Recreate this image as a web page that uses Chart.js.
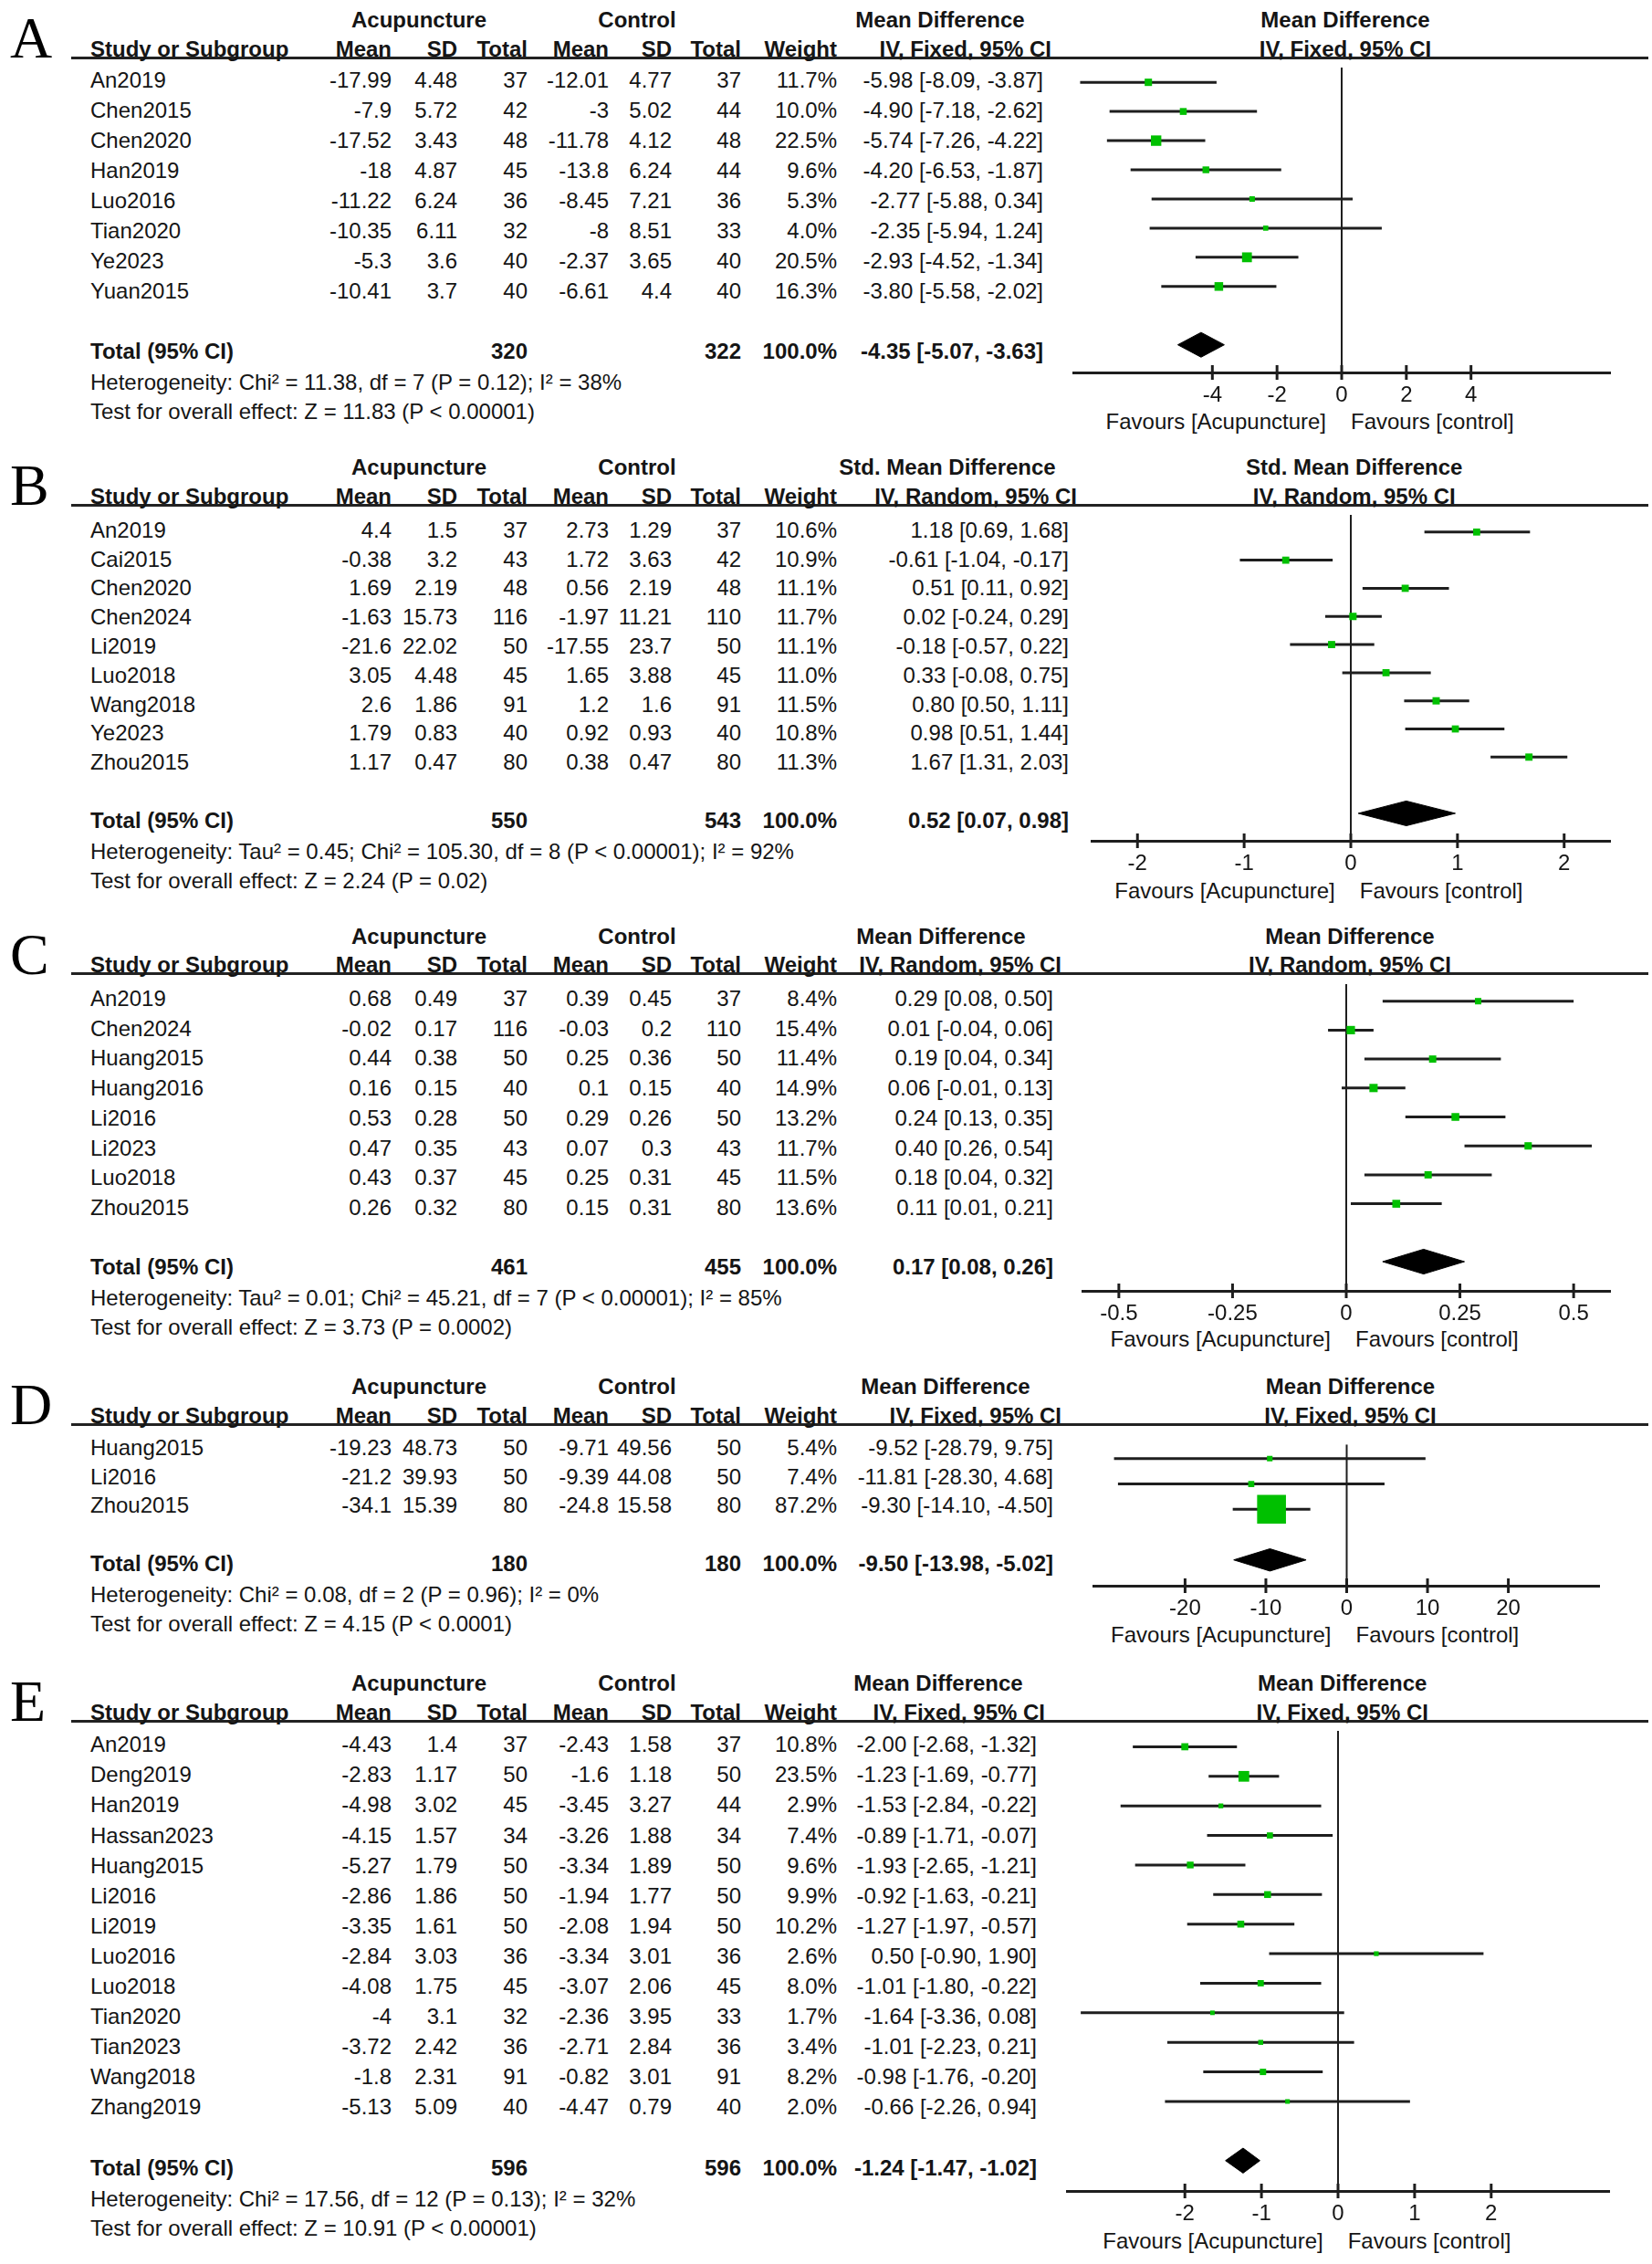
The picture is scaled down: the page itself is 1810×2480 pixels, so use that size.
<!DOCTYPE html>
<html lang="en">
<head>
<meta charset="UTF-8">
<title>Forest plots A-E</title>
<script src="https://cdn.jsdelivr.net/npm/chart.js"></script>
<style>
  html, body { margin: 0; padding: 0; background: #fff; }
  #page { position: relative; width: 1810px; height: 2480px; overflow: hidden;
          font-family: 'Liberation Sans', Arial, sans-serif; color: #151515; }
  .t { position: absolute; font-size: 24px; line-height: 24px; white-space: nowrap; }
  .b { font-weight: bold; }
  .r { transform: translate(-100%, -50%); }
  .c { transform: translate(-50%, -50%); }
  .l { transform: translate(0, -50%); }
  .letter { position: absolute; font-family: 'Liberation Serif', 'Times New Roman', serif;
            font-size: 64px; line-height: 64px; color: #000; }
  .hline { position: absolute; height: 3px; background: #222; }
  canvas { position: absolute; }
</style>
</head>
<body>
<div id="page"></div>
<script>
// ---- panel A: mean difference, fixed ----
const studyA = ['An2019', 'Chen2015', 'Chen2020', 'Han2019', 'Luo2016', 'Tian2020', 'Ye2023', 'Yuan2015'];
const acuMeanA = [-17.99, -7.9, -17.52, -18, -11.22, -10.35, -5.3, -10.41];
const acuSdA = [4.48, 5.72, 3.43, 4.87, 6.24, 6.11, 3.6, 3.7];
const acuNA = [37, 42, 48, 45, 36, 32, 40, 40];
const ctlMeanA = [-12.01, -3, -11.78, -13.8, -8.45, -8, -2.37, -6.61];
const ctlSdA = [4.77, 5.02, 4.12, 6.24, 7.21, 8.51, 3.65, 4.4];
const ctlNA = [37, 44, 48, 44, 36, 33, 40, 40];
const weightA = [11.7, 10.0, 22.5, 9.6, 5.3, 4.0, 20.5, 16.3];
const estA = [-5.98, -4.90, -5.74, -4.20, -2.77, -2.35, -2.93, -3.80];
const lowA = [-8.09, -7.18, -7.26, -6.53, -5.88, -5.94, -4.52, -5.58];
const highA = [-3.87, -2.62, -4.22, -1.87, 0.34, 1.24, -1.34, -2.02];
const totalA = [320, 322, -4.35, -5.07, -3.63];
const ticksA = [-4, -2, 0, 2, 4];
const rangeA = 8.3;
const hetA = 'Heterogeneity: Chi² = 11.38, df = 7 (P = 0.12); I² = 38%';
const testA = 'Test for overall effect: Z = 11.83 (P < 0.00001)';

// ---- panel B: std. mean difference, random ----
const studyB = ['An2019', 'Cai2015', 'Chen2020', 'Chen2024', 'Li2019', 'Luo2018', 'Wang2018', 'Ye2023', 'Zhou2015'];
const acuMeanB = [4.4, -0.38, 1.69, -1.63, -21.6, 3.05, 2.6, 1.79, 1.17];
const acuSdB = [1.5, 3.2, 2.19, 15.73, 22.02, 4.48, 1.86, 0.83, 0.47];
const acuNB = [37, 43, 48, 116, 50, 45, 91, 40, 80];
const ctlMeanB = [2.73, 1.72, 0.56, -1.97, -17.55, 1.65, 1.2, 0.92, 0.38];
const ctlSdB = [1.29, 3.63, 2.19, 11.21, 23.7, 3.88, 1.6, 0.93, 0.47];
const ctlNB = [37, 42, 48, 110, 50, 45, 91, 40, 80];
const weightB = [10.6, 10.9, 11.1, 11.7, 11.1, 11.0, 11.5, 10.8, 11.3];
const estB = [1.18, -0.61, 0.51, 0.02, -0.18, 0.33, 0.80, 0.98, 1.67];
const lowB = [0.69, -1.04, 0.11, -0.24, -0.57, -0.08, 0.50, 0.51, 1.31];
const highB = [1.68, -0.17, 0.92, 0.29, 0.22, 0.75, 1.11, 1.44, 2.03];
const totalB = [550, 543, 0.52, 0.07, 0.98];
const ticksB = [-2, -1, 0, 1, 2];
const rangeB = 2.43;
const hetB = 'Heterogeneity: Tau² = 0.45; Chi² = 105.30, df = 8 (P < 0.00001); I² = 92%';
const testB = 'Test for overall effect: Z = 2.24 (P = 0.02)';

// ---- panel C: mean difference, random ----
const studyC = ['An2019', 'Chen2024', 'Huang2015', 'Huang2016', 'Li2016', 'Li2023', 'Luo2018', 'Zhou2015'];
const acuMeanC = [0.68, -0.02, 0.44, 0.16, 0.53, 0.47, 0.43, 0.26];
const acuSdC = [0.49, 0.17, 0.38, 0.15, 0.28, 0.35, 0.37, 0.32];
const acuNC = [37, 116, 50, 40, 50, 43, 45, 80];
const ctlMeanC = [0.39, -0.03, 0.25, 0.1, 0.29, 0.07, 0.25, 0.15];
const ctlSdC = [0.45, 0.2, 0.36, 0.15, 0.26, 0.3, 0.31, 0.31];
const ctlNC = [37, 110, 50, 40, 50, 43, 45, 80];
const weightC = [8.4, 15.4, 11.4, 14.9, 13.2, 11.7, 11.5, 13.6];
const estC = [0.29, 0.01, 0.19, 0.06, 0.24, 0.40, 0.18, 0.11];
const lowC = [0.08, -0.04, 0.04, -0.01, 0.13, 0.26, 0.04, 0.01];
const highC = [0.50, 0.06, 0.34, 0.13, 0.35, 0.54, 0.32, 0.21];
const totalC = [461, 455, 0.17, 0.08, 0.26];
const ticksC = [-0.5, -0.25, 0, 0.25, 0.5];
const rangeC = 0.58;
const hetC = 'Heterogeneity: Tau² = 0.01; Chi² = 45.21, df = 7 (P < 0.00001); I² = 85%';
const testC = 'Test for overall effect: Z = 3.73 (P = 0.0002)';

// ---- panel D: mean difference, fixed ----
const studyD = ['Huang2015', 'Li2016', 'Zhou2015'];
const acuMeanD = [-19.23, -21.2, -34.1];
const acuSdD = [48.73, 39.93, 15.39];
const acuND = [50, 50, 80];
const ctlMeanD = [-9.71, -9.39, -24.8];
const ctlSdD = [49.56, 44.08, 15.58];
const ctlND = [50, 50, 80];
const weightD = [5.4, 7.4, 87.2];
const estD = [-9.52, -11.81, -9.30];
const lowD = [-28.79, -28.30, -14.10];
const highD = [9.75, 4.68, -4.50];
const totalD = [180, 180, -9.50, -13.98, -5.02];
const ticksD = [-20, -10, 0, 10, 20];
const rangeD = 31.3;
const hetD = 'Heterogeneity: Chi² = 0.08, df = 2 (P = 0.96); I² = 0%';
const testD = 'Test for overall effect: Z = 4.15 (P < 0.0001)';

// ---- panel E: mean difference, fixed ----
const studyE = ['An2019', 'Deng2019', 'Han2019', 'Hassan2023', 'Huang2015', 'Li2016', 'Li2019',
                'Luo2016', 'Luo2018', 'Tian2020', 'Tian2023', 'Wang2018', 'Zhang2019'];
const acuMeanE = [-4.43, -2.83, -4.98, -4.15, -5.27, -2.86, -3.35, -2.84, -4.08, -4, -3.72, -1.8, -5.13];
const acuSdE = [1.4, 1.17, 3.02, 1.57, 1.79, 1.86, 1.61, 3.03, 1.75, 3.1, 2.42, 2.31, 5.09];
const acuNE = [37, 50, 45, 34, 50, 50, 50, 36, 45, 32, 36, 91, 40];
const ctlMeanE = [-2.43, -1.6, -3.45, -3.26, -3.34, -1.94, -2.08, -3.34, -3.07, -2.36, -2.71, -0.82, -4.47];
const ctlSdE = [1.58, 1.18, 3.27, 1.88, 1.89, 1.77, 1.94, 3.01, 2.06, 3.95, 2.84, 3.01, 0.79];
const ctlNE = [37, 50, 44, 34, 50, 50, 50, 36, 45, 33, 36, 91, 40];
const weightE = [10.8, 23.5, 2.9, 7.4, 9.6, 9.9, 10.2, 2.6, 8.0, 1.7, 3.4, 8.2, 2.0];
const estE = [-2.00, -1.23, -1.53, -0.89, -1.93, -0.92, -1.27, 0.50, -1.01, -1.64, -1.01, -0.98, -0.66];
const lowE = [-2.68, -1.69, -2.84, -1.71, -2.65, -1.63, -1.97, -0.90, -1.80, -3.36, -2.23, -1.76, -2.26];
const highE = [-1.32, -0.77, -0.22, -0.07, -1.21, -0.21, -0.57, 1.90, -0.22, 0.08, 0.21, -0.20, 0.94];
const totalE = [596, 596, -1.24, -1.47, -1.02];
const ticksE = [-2, -1, 0, 1, 2];
const rangeE = 3.54;
const hetE = 'Heterogeneity: Chi² = 17.56, df = 12 (P = 0.13); I² = 32%';
const testE = 'Test for overall effect: Z = 10.91 (P < 0.00001)';

// ---- page layout (pixels) ----
const GREEN = '#00c000';
const INK = '#1e1e1e';
const AXIS_RIGHT = 1775;
const COL = { name: 99, acuMean: 429, acuSd: 501, acuN: 578, ctlMean: 667, ctlSd: 736,
              ctlN: 812, weight: 917 };

const panels = [
  { letter: 'A', study: studyA, acuMean: acuMeanA, acuSd: acuSdA, acuN: acuNA, ctlMean: ctlMeanA,
    ctlSd: ctlSdA, ctlN: ctlNA, weight: weightA, est: estA, low: lowA, high: highA, total: totalA,
    ticks: ticksA, range: rangeA, het: hetA, test: testA,
    measure: 'Mean Difference', method: 'IV, Fixed, 95% CI',
    top: 63.3, first: 80, row: 33, axis: 408.3, left: 1165, ci: 1143, mh: 1030 },
  { letter: 'B', study: studyB, acuMean: acuMeanB, acuSd: acuSdB, acuN: acuNB, ctlMean: ctlMeanB,
    ctlSd: ctlSdB, ctlN: ctlNB, weight: weightB, est: estB, low: lowB, high: highB, total: totalB,
    ticks: ticksB, range: rangeB, het: hetB, test: testB,
    measure: 'Std. Mean Difference', method: 'IV, Random, 95% CI',
    top: 553.3, first: 572.7, row: 31.8, axis: 921.7, left: 1184.5, ci: 1171, mh: 1038 },
  { letter: 'C', study: studyC, acuMean: acuMeanC, acuSd: acuSdC, acuN: acuNC, ctlMean: ctlMeanC,
    ctlSd: ctlSdC, ctlN: ctlNC, weight: weightC, est: estC, low: lowC, high: highC, total: totalC,
    ticks: ticksC, range: rangeC, het: hetC, test: testC,
    measure: 'Mean Difference', method: 'IV, Random, 95% CI',
    top: 1066.7, first: 1086, row: 32.7, axis: 1413.3, left: 1175, ci: 1154, mh: 1031 },
  { letter: 'D', study: studyD, acuMean: acuMeanD, acuSd: acuSdD, acuN: acuND, ctlMean: ctlMeanD,
    ctlSd: ctlSdD, ctlN: ctlND, weight: weightD, est: estD, low: lowD, high: highD, total: totalD,
    ticks: ticksD, range: rangeD, het: hetD, test: testD,
    measure: 'Mean Difference', method: 'IV, Fixed, 95% CI',
    top: 1560, first: 1577.7, row: 31.8, axis: 1737.3, left: 1176, ci: 1154, mh: 1036 },
  { letter: 'E', study: studyE, acuMean: acuMeanE, acuSd: acuSdE, acuN: acuNE, ctlMean: ctlMeanE,
    ctlSd: ctlSdE, ctlN: ctlNE, weight: weightE, est: estE, low: lowE, high: highE, total: totalE,
    ticks: ticksE, range: rangeE, het: hetE, test: testE,
    measure: 'Mean Difference', method: 'IV, Fixed, 95% CI',
    top: 1885.4, first: 1903.2, row: 33.1, axis: 2400.6, left: 1158.4, ci: 1136, mh: 1028 }
];

const page = document.getElementById('page');

function txt(s, x, y, align, bold) {
  const el = document.createElement('div');
  el.className = 't ' + align + (bold ? ' b' : '');
  el.textContent = s;
  el.style.left = x + 'px';
  el.style.top = y + 'px';
  page.appendChild(el);
}

const ci = (e, l, h) => e.toFixed(2) + ' [' + l.toFixed(2) + ', ' + h.toFixed(2) + ']';

function drawTable(p) {
  const n = p.study.length;
  const zero = (p.left + AXIS_RIGHT) / 2;

  const L = document.createElement('div');
  L.className = 'letter';
  L.textContent = p.letter;
  L.style.left = '11px';
  L.style.top = (p.top - 53) + 'px';
  page.appendChild(L);

  const hl = document.createElement('div');
  hl.className = 'hline';
  hl.style.left = '78px';
  hl.style.width = '1728px';
  hl.style.top = (p.top - 1.5) + 'px';
  page.appendChild(hl);

  const g = p.top - 41, h = p.top - 9.5;
  txt('Acupuncture', 459, g, 'c', true);
  txt('Control', 698, g, 'c', true);
  txt(p.measure, p.mh, g, 'c', true);
  txt(p.measure, zero + 4, g, 'c', true);
  txt('Study or Subgroup', COL.name, h, 'l', true);
  txt('Mean', COL.acuMean, h, 'r', true);
  txt('SD', COL.acuSd, h, 'r', true);
  txt('Total', COL.acuN, h, 'r', true);
  txt('Mean', COL.ctlMean, h, 'r', true);
  txt('SD', COL.ctlSd, h, 'r', true);
  txt('Total', COL.ctlN, h, 'r', true);
  txt('Weight', COL.weight, h, 'r', true);
  txt(p.method, p.ci + 9, h, 'r', true);
  txt(p.method, zero + 4, h, 'c', true);

  for (let i = 0; i < n; i++) {
    const y = p.first + i * p.row + 8;
    txt(p.study[i], COL.name, y, 'l');
    txt(String(p.acuMean[i]), COL.acuMean, y, 'r');
    txt(String(p.acuSd[i]), COL.acuSd, y, 'r');
    txt(String(p.acuN[i]), COL.acuN, y, 'r');
    txt(String(p.ctlMean[i]), COL.ctlMean, y, 'r');
    txt(String(p.ctlSd[i]), COL.ctlSd, y, 'r');
    txt(String(p.ctlN[i]), COL.ctlN, y, 'r');
    txt(p.weight[i].toFixed(1) + '%', COL.weight, y, 'r');
    txt(ci(p.est[i], p.low[i], p.high[i]), p.ci, y, 'r');
  }
  const ty = p.first + (n + 1) * p.row + 8;
  txt('Total (95% CI)', COL.name, ty, 'l', true);
  txt(String(p.total[0]), COL.acuN, ty, 'r', true);
  txt(String(p.total[1]), COL.ctlN, ty, 'r', true);
  txt('100.0%', COL.weight, ty, 'r', true);
  txt(ci(p.total[2], p.total[3], p.total[4]), p.ci, ty, 'r', true);
  txt(p.het, COL.name, ty + 34, 'l');
  txt(p.test, COL.name, ty + 66, 'l');

  txt('Favours [Acupuncture]', zero - 17, p.axis + 54, 'r');
  txt('Favours [control]', zero + 10, p.axis + 54, 'l');
}

function drawPlot(p) {
  const n = p.study.length;
  const yTop = (p.top - p.first) / p.row;
  const yAxis = (p.axis - p.first) / p.row;
  const tIdx = n + 1;
  const dh = 14 / p.row;
  const w = AXIS_RIGHT - p.left;
  const hgt = Math.round(p.axis - p.top) + 70;

  const cv = document.createElement('canvas');
  cv.width = w; cv.height = hgt;
  cv.style.left = p.left + 'px';
  cv.style.top = p.top + 'px';
  page.appendChild(cv);

  const datasets = [];
  // weighted squares
  datasets.push({
    type: 'scatter', order: 0,
    data: p.est.map((v, i) => ({ x: v, y: i })),
    pointStyle: 'rect',
    pointRadius: p.weight.map(wt => (4.4 + 0.312 * wt) / Math.SQRT2),
    backgroundColor: GREEN, borderWidth: 0
  });
  // pooled diamond
  const [, , te, tl, th] = p.total;
  datasets.push({
    type: 'line', order: 1,
    data: [{ x: tl, y: tIdx }, { x: te, y: tIdx - dh }, { x: th, y: tIdx }, { x: te, y: tIdx + dh }, { x: tl, y: tIdx }],
    borderColor: '#000', backgroundColor: '#000', borderWidth: 1, fill: 'shape', pointRadius: 0, tension: 0
  });
  // confidence intervals
  p.low.forEach((lo, i) => {
    datasets.push({
      type: 'line', order: 2,
      data: [{ x: lo, y: i }, { x: p.high[i], y: i }],
      borderColor: INK, borderWidth: 3, pointRadius: 0, fill: false
    });
  });
  // line of no effect
  datasets.push({
    type: 'line', order: 3,
    data: [{ x: 0, y: yTop }, { x: 0, y: yAxis }],
    borderColor: INK, borderWidth: 2, pointRadius: 0, fill: false
  });
  // tick marks crossing the axis
  datasets.push({
    type: 'scatter', order: 4, clip: false,
    data: p.ticks.map(v => ({ x: v, y: yAxis })),
    pointStyle: 'line', rotation: 90, pointRadius: 8,
    borderColor: INK, borderWidth: 3
  });

  new Chart(cv, {
    type: 'line',
    data: { datasets },
    options: {
      responsive: false, animation: false, devicePixelRatio: 1, events: [],
      layout: { padding: 0 },
      plugins: { legend: { display: false }, tooltip: { enabled: false } },
      scales: {
        x: {
          type: 'linear', position: 'bottom', min: -p.range, max: p.range,
          afterBuildTicks: s => { s.ticks = p.ticks.map(v => ({ value: v })); },
          afterFit: s => { s.height = 70; },
          ticks: {
            color: '#151515', padding: 11, maxRotation: 0, autoSkip: false,
            font: { family: "'Liberation Sans', Arial, sans-serif", size: 24 },
            callback: v => String(v)
          },
          grid: { display: true, drawOnChartArea: false, drawTicks: false },
          border: { display: true, color: INK, width: 3 }
        },
        y: { type: 'linear', reverse: true, min: yTop, max: yAxis, display: false }
      }
    }
  });
}

panels.forEach(p => { drawTable(p); drawPlot(p); });
</script>
</body>
</html>
